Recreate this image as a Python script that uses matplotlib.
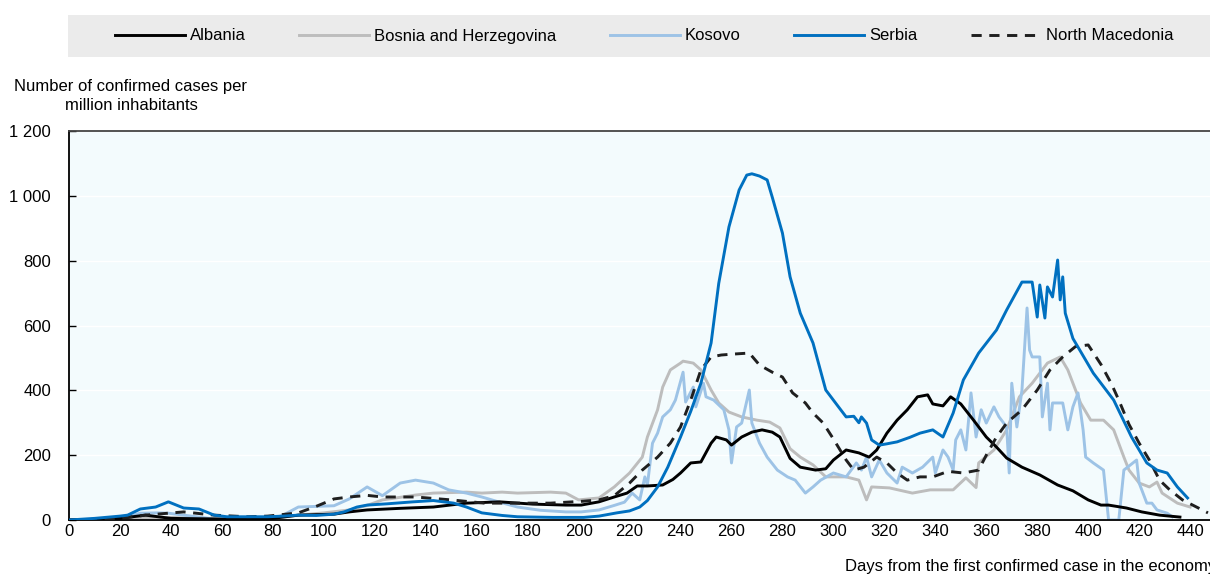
import matplotlib
matplotlib.use("Agg")
import matplotlib.pyplot as plt
from matplotlib.patches import Rectangle
from matplotlib.ticker import FuncFormatter

plt.rcParams['font.family'] = ['Liberation Sans', 'DejaVu Sans']

# ---------------- data ----------------
serbia_days = [0, 10, 20, 23, 28, 34, 39, 45, 51, 57, 62, 70, 78, 84, 90, 97, 104, 108, 113, 117, 125, 130, 135,
               143, 151, 156, 162, 170, 176, 190, 202, 208, 215, 220, 224, 227, 231, 235, 240, 244, 248, 252, 255,
               259, 263, 266, 268, 271, 274, 276, 280, 283, 287, 292, 297, 302, 305, 308, 310, 311, 313, 315, 318,
               321, 325, 330, 334, 339, 343, 347, 351, 357, 364, 368, 374, 378, 380, 381, 383, 384, 386, 388, 389,
               390, 391, 394, 397, 402, 410, 417, 423, 427, 431, 435, 439]
serbia_vals = [0, 5, 12, 15, 34, 40, 56, 37, 34, 15, 10, 10, 10, 12, 15, 14, 18, 25, 40, 46, 50, 53, 56,
               60, 52, 40, 22, 14, 10, 8, 8, 12, 22, 28, 40, 60, 102, 163, 256, 335, 422, 546, 730,
               904, 1018, 1064, 1068, 1061, 1049, 996, 885, 750, 638, 546, 401, 349, 318, 320, 300, 318, 299, 247, 231,
               235, 241, 255, 268, 278, 256, 330, 432, 515, 586, 648, 734, 734, 626, 725, 623, 719, 688, 802, 679,
               750, 638, 560, 520, 453, 370, 256, 176, 154, 145, 102, 68]

albania_days = [0, 10, 20, 25, 30, 35, 40, 60, 80, 90, 104, 110, 117, 130, 143, 156, 169, 182, 195, 201, 208, 214,
                219, 223, 227, 233, 237, 240, 244, 248, 252, 254, 258, 260, 264, 268, 272, 276, 279, 283, 287, 293,
                297, 300, 305, 310, 314, 317, 321, 325, 329, 333, 337, 339, 343, 346, 350, 355, 360, 364, 368, 374,
                381, 388, 394, 400, 405, 408, 415, 421, 428, 436]
albania_vals = [0, 2, 5, 10, 15, 10, 5, 3, 5, 15, 18, 25, 31, 36, 40, 52, 56, 49, 46, 46, 56, 71,
                83, 105, 105, 108, 125, 145, 176, 179, 237, 256, 247, 231, 256, 271, 278, 271, 256, 190, 163, 154,
                158, 185, 216, 207, 194, 216, 268, 308, 340, 380, 386, 358, 352, 380, 358, 308, 256, 225, 191, 163,
                139, 108, 90, 62, 46, 46, 37, 25, 15, 9]

bosnia_days = [0, 20, 30, 40, 50, 60, 80, 90, 100, 110, 117, 123, 130, 136, 143, 156, 162, 170, 176, 189, 195, 200,
               208, 214, 220, 225, 227, 231, 233, 236, 240, 241, 245, 248, 252, 255, 259, 264, 270, 275, 279, 283,
               287, 292, 297, 305, 310, 313, 315, 322, 331, 338, 347, 352, 356, 357, 363, 368, 373, 378, 384, 389,
               392, 394, 397, 401, 406, 410, 414, 416, 420, 424, 427, 429, 435, 440]
bosnia_vals = [0, 3, 5, 8, 5, 3, 5, 15, 22, 31, 45, 62, 70, 77, 83, 86, 83, 86, 83, 86, 83, 62,
               68, 102, 145, 194, 256, 340, 410, 463, 484, 490, 484, 463, 401, 361, 333, 318, 308, 302, 284, 220,
               194, 170, 133, 133, 123, 62, 102, 99, 83, 93, 93, 130, 100, 176, 216, 278, 380, 422, 484, 503,
               463, 422, 361, 308, 308, 278, 194, 154, 114, 102, 117, 83, 52, 40]

kosovo_days = [0, 20, 25, 28, 35, 39, 45, 51, 57, 65, 80, 84, 90, 97, 104, 110, 117, 123, 130, 136, 143, 149, 156,
               162, 169, 176, 185, 195, 201, 208, 214, 218, 221, 224, 226, 227, 229, 231, 233, 236, 238, 241, 242,
               245, 246, 249, 250, 253, 257, 259, 260, 262, 264, 267, 268, 271, 274, 278, 282, 285, 289, 292, 295,
               300, 305, 309, 311, 313, 315, 318, 321, 325, 327, 331, 335, 339, 340, 343, 345, 347, 348, 350, 352,
               354, 356, 358, 360, 363, 365, 368, 369, 370, 372, 374, 376, 377, 378, 381, 382, 384, 385, 386, 390,
               392, 394, 396, 398, 399, 402, 406, 408, 412, 414, 419, 420, 423, 425, 427, 431, 433]
kosovo_vals = [0, 5, 15, 21, 22, 21, 15, 9, 3, 1, 3, 15, 40, 42, 44, 65, 102, 75, 114, 123, 114, 93, 83,
               71, 55, 40, 30, 25, 25, 31, 45, 55, 83, 62, 133, 108, 237, 268, 318, 340, 370, 456, 364,
               410, 349, 422, 380, 370, 340, 278, 176, 287, 299, 401, 299, 237, 194, 154, 133, 123, 83, 102, 123,
               145, 133, 176, 154, 194, 133, 185, 145, 114, 163, 145, 163, 194, 145, 216, 194, 154, 247, 278, 216,
               392, 256, 340, 299, 349, 318, 287, 145, 422, 287, 401, 654, 524, 503, 503, 318, 422, 278, 361, 361,
               278, 349, 392, 278, 194, 176, 154, 0, 0, 154, 185, 114, 52, 52, 31, 21, 10]

macedonia_days = [0, 10, 20, 30, 45, 57, 70, 78, 90, 97, 104, 110, 117, 123, 136, 150, 163, 176, 189, 202, 208, 214,
                  220, 225, 231, 236, 240, 244, 248, 252, 256, 261, 267, 271, 276, 280, 284, 289, 292, 296, 300, 305,
                  308, 312, 317, 321, 325, 329, 334, 339, 345, 351, 357, 360, 364, 368, 374, 380, 385, 390, 395, 400,
                  405, 409, 412, 416, 420, 424, 428, 432, 437, 441, 447]
macedonia_vals = [0, 2, 5, 15, 25, 15, 10, 12, 22, 42, 65, 71, 76, 71, 71, 62, 52, 52, 52, 58, 62, 75,
                  114, 154, 194, 237, 287, 370, 463, 503, 509, 512, 515, 478, 456, 441, 392, 361, 330, 299, 250, 185,
                  154, 163, 194, 176, 145, 123, 133, 133, 150, 145, 154, 200, 256, 299, 340, 401, 463, 503, 535, 540,
                  480, 422, 370, 295, 237, 185, 123, 93, 62, 46, 22]

y_ticks = [0, 200, 400, 600, 800, 1000, 1200]
x_ticks = list(range(0, 441, 20))

# ---------------- figure ----------------
W, H = 1210, 575
FS = 12
fig = plt.figure(figsize=(W / 100, H / 100), dpi=100)
ax = fig.add_axes([69 / W, 1 - 520 / H, 1 - 69 / W, (520 - 131) / H])
ax.set_facecolor('#F3FBFD')

lw = 2.1
ax.plot(albania_days, albania_vals, color='black', lw=lw, label='Albania', zorder=3)
ax.plot(bosnia_days, bosnia_vals, color='#BDBDBD', lw=lw, label='Bosnia and Herzegovina', zorder=2)
ax.plot(kosovo_days, kosovo_vals, color='#9DC3E6', lw=lw, label='Kosovo', zorder=2)
ax.plot(serbia_days, serbia_vals, color='#0070C0', lw=lw, label='Serbia', zorder=4)
ax.plot(macedonia_days, macedonia_vals, color='#1F1F1F', lw=lw, ls=(0, (3.5, 2.6)),
        label='North Macedonia', zorder=3)

ax.set_xlim(0, 447.8)
ax.set_ylim(0, 1200)
ax.set_yticks(y_ticks)
ax.set_xticks(x_ticks)
ax.yaxis.set_major_formatter(FuncFormatter(lambda v, p: f"{int(v):,}".replace(',', ' ')))
ax.tick_params(axis='y', direction='in', length=5, width=1, pad=13, labelsize=FS, colors='black')
ax.tick_params(axis='x', length=0, pad=3, labelsize=FS)
ax.grid(axis='y', color='white', lw=1)
ax.set_axisbelow(True)

ax.spines['right'].set_visible(False)
ax.spines['left'].set_color('black')
ax.spines['left'].set_linewidth(1.3)
ax.spines['bottom'].set_color('black')
ax.spines['bottom'].set_linewidth(1.3)
ax.spines['top'].set_color('#444444')
ax.spines['top'].set_linewidth(1.3)

# y label (top left)
fig.text(131 / W, 1 - 96 / H, "Number of confirmed cases per\nmillion inhabitants",
         ha='center', va='center', fontsize=FS, linespacing=1.25)
# x label
fig.text(845 / W, 1 - 566 / H, "Days from the first confirmed case in the economy",
         ha='left', va='center', fontsize=FS)

# legend background
fig.patches.append(Rectangle((68 / W, 1 - 57 / H), 1 - 68 / W, 42 / H, transform=fig.transFigure,
                             facecolor='#EBEBEB', edgecolor='none', zorder=0))
handles, labels = ax.get_legend_handles_labels()
fig.legend(handles, labels, loc='center', bbox_to_anchor=(644 / W, 1 - 36 / H), ncol=5, frameon=False,
           fontsize=FS, handlelength=4.2, handletextpad=0.3, columnspacing=3.2)

fig.savefig('out.png', dpi=100)
